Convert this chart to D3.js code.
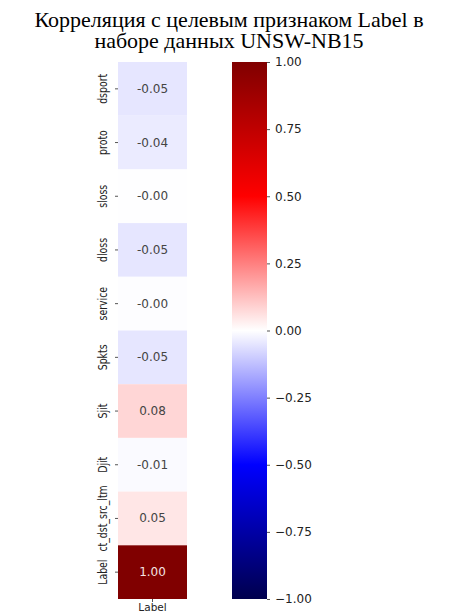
<!DOCTYPE html>
<html><head><meta charset="utf-8">
<script src="https://cdn.jsdelivr.net/npm/d3@7"></script>
<style>body{margin:0;background:#fff}svg{display:block}</style>
</head><body>
<script>
const features = ["dsport","proto","sloss","dloss","service","Spkts","Sjit","Djit","ct_dst_src_ltm","Label"];
const correlations = [-0.05,-0.04,-0.002,-0.05,-0.003,-0.05,0.08,-0.01,0.05,1.00];
const columnLabels = ["Label"];
const colorbarTicks = [1.00,0.75,0.50,0.25,0.00,-0.25,-0.50,-0.75,-1.00];
const titleLines = ["Корреляция с целевым признаком Label в","наборе данных UNSW-NB15"];

const W=454,H=612;
const svg=d3.select("body").append("svg").attr("width",W).attr("height",H);

// seismic colormap
const seismic=d3.scaleLinear().domain([-1,-0.5,0,0.5,1])
  .range(["rgb(0,0,77)","rgb(0,0,255)","rgb(255,255,255)","rgb(255,0,0)","rgb(128,0,0)"]);

const plotTop=62,plotBottom=599;
const x=d3.scaleBand().domain(columnLabels).range([118,187]);
const y=d3.scaleBand().domain(features).range([plotTop,plotBottom]);

// title
svg.append("g").selectAll("text").data(titleLines).join("text")
  .attr("x",229).attr("y",(d,i)=>27+i*21).attr("text-anchor","middle")
  .attr("font-family","Liberation Serif, Times New Roman, serif").attr("font-size",22)
  .attr("fill","#000").text(d=>d);

const fmtCell=v=>(v<0?"-":"")+Math.abs(v).toFixed(2);
const rows=features.map((f,i)=>({f,v:correlations[i]}));
svg.append("g").selectAll("rect").data(rows).join("rect")
  .attr("x",x("Label")).attr("y",d=>y(d.f)).attr("width",x.bandwidth()).attr("height",y.bandwidth())
  .attr("fill",d=>seismic(d.v));
svg.append("g").selectAll("text").data(rows).join("text")
  .attr("x",x("Label")+x.bandwidth()/2).attr("y",d=>y(d.f)+y.bandwidth()/2)
  .attr("text-anchor","middle").attr("dominant-baseline","central")
  .attr("font-family","DejaVu Sans, sans-serif").attr("font-size",12)
  .attr("fill",d=>Math.abs(d.v)>0.6?"#f3e3e3":"#444")
  .text(d=>fmtCell(d.v));

// y axis
const yAxis=svg.append("g").attr("transform","translate(118,0)")
  .call(d3.axisLeft(y).tickSize(3).tickPadding(4));
yAxis.select(".domain").remove();
yAxis.selectAll("line").attr("stroke","#555");
yAxis.selectAll("text")
  .attr("font-family","DejaVu Sans, sans-serif").attr("font-size",13)
  .attr("fill","#222").attr("text-anchor","middle").attr("dominant-baseline","auto")
  .attr("x",0).attr("dy",0).attr("transform","translate(-11,0) rotate(-90) scale(0.72,1)");

// x axis
const xAxis=svg.append("g").attr("transform",`translate(0,${plotBottom})`)
  .call(d3.axisBottom(x).tickSize(3).tickPadding(2));
xAxis.select(".domain").remove();
xAxis.selectAll("line").attr("stroke","#555");
xAxis.selectAll("text").attr("font-family","DejaVu Sans, sans-serif").attr("font-size",10.5).attr("fill","#222");

// colorbar
const cb=d3.scaleLinear().domain([1,-1]).range([plotTop,plotBottom]);
const defs=svg.append("defs");
const grad=defs.append("linearGradient").attr("id","cbg").attr("x1",0).attr("x2",0).attr("y1",0).attr("y2",1);
d3.range(0,1.0001,0.05).forEach(t=>grad.append("stop").attr("offset",t).attr("stop-color",seismic(1-2*t)));
svg.append("rect").attr("x",232).attr("y",plotTop).attr("width",35).attr("height",plotBottom-plotTop).attr("fill","url(#cbg)");
const cbAxis=svg.append("g").attr("transform","translate(267,0)")
  .call(d3.axisRight(cb).tickValues(colorbarTicks).tickFormat(d3.format(".2f")).tickSize(3).tickPadding(5));
cbAxis.select(".domain").remove();
cbAxis.selectAll("line").attr("stroke","#555");
cbAxis.selectAll("text").attr("font-family","DejaVu Sans, sans-serif").attr("font-size",12).attr("fill","#222");
</script>
</body></html>
